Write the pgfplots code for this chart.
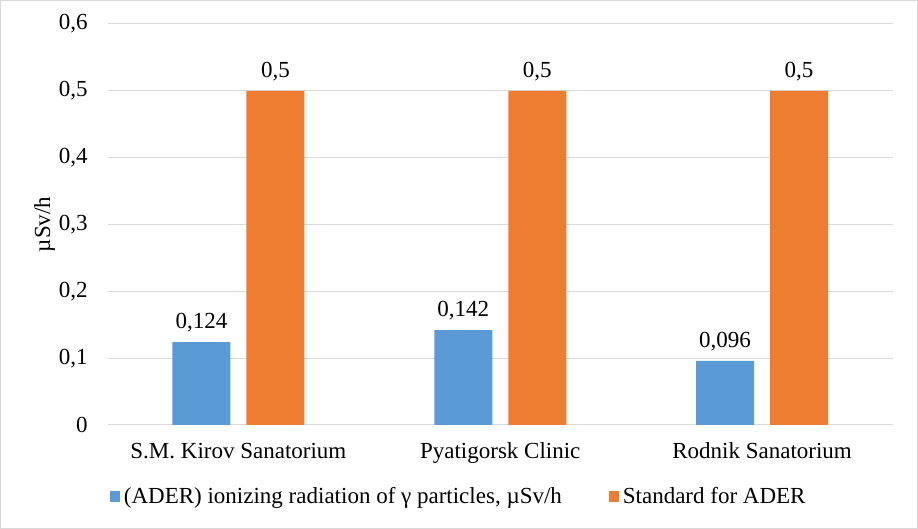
\documentclass[border=0pt]{standalone}
\usepackage{pgfplots}
\pgfplotsset{compat=1.18}
\usepackage{fontspec}
\setmainfont{Liberation Serif}
\definecolor{cblue}{HTML}{5B9BD5}
\definecolor{corange}{HTML}{ED7D31}
\definecolor{cgrid}{HTML}{D9D9D9}
\begin{document}
\fontsize{23}{27}\selectfont
\begin{tikzpicture}
\begin{axis}[
  at={(107.5pt,104pt)}, anchor=south west,
  scale only axis, width=785.5pt, height=401pt,
  xmin=-0.5, xmax=2.5, ymin=0, ymax=0.6,
  xtick={0,1,2}, xticklabels={S.M. Kirov Sanatorium, Pyatigorsk Clinic, Rodnik Sanatorium},
  ytick={0,0.1,0.2,0.3,0.4,0.5,0.6},
  major tick length=0pt,
  axis line style={draw=none},
  ymajorgrids, grid style={cgrid, line width=1pt},
  /pgf/number format/.cd, use comma, precision=3, assume math mode=true, fixed,
  /pgfplots/.cd,
  yticklabel style={xshift=-12pt},
  xticklabel style={yshift=-10pt},
  ylabel={µSv/h},
  ylabel style={at={(axis description cs:-0.0802,0.5)}, anchor=center},
  ybar=16pt, bar width=58pt,
  nodes near coords,
  every node near coord/.append style={text=black, yshift=2pt},
  legend style={at={(axis description cs:0.5,0)}, anchor=center, xshift=-40.5pt, yshift=-72pt,
    draw=none, fill=none, legend columns=2,
    nodes={inner xsep=4pt},
    /tikz/every even column/.append style={column sep=43pt}},
  legend image code/.code={\fill[#1] (0pt,-5.5pt) rectangle (10pt,5.5pt);},
]
\addplot[fill=cblue, draw=none] coordinates {(0,0.124) (1,0.142) (2,0.096)};
\addplot[fill=corange, draw=none] coordinates {(0,0.5) (1,0.5) (2,0.5)};
\legend{(ADER) ionizing radiation of γ particles{,} µSv/h, Standard for ADER}
\end{axis}
\draw[cgrid,line width=1pt] (0.5pt,0.5pt) rectangle (917.5pt,528.5pt);
\pgfresetboundingbox
\path[use as bounding box] (0pt,0pt) rectangle (918pt,529pt);
\end{tikzpicture}
\end{document}
